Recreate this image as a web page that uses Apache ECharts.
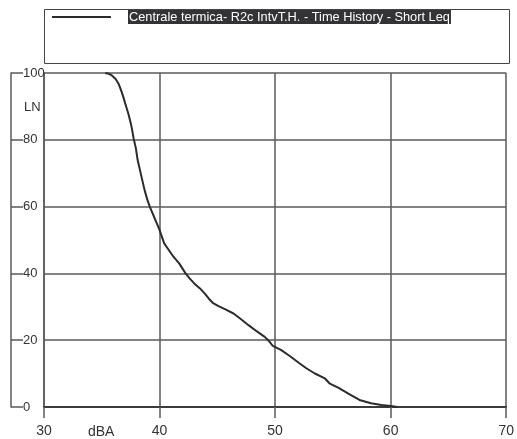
<!DOCTYPE html>
<html>
<head>
<meta charset="utf-8">
<script src="https://cdn.jsdelivr.net/npm/echarts@6/dist/echarts.min.js"></script>
<style>
  html, body { margin: 0; padding: 0; background: #fff; }
  #chart { width: 517px; height: 439px; }
</style>
</head>
<body>
<div id="chart"></div>
<script>
// Level distribution curve: percentage of time (LN) above each level in dBA
const seriesName = 'Centrale termica- R2c IntvT.H. - Time History - Short Leq';
const levelDBA = [
  35.3, 35.6, 35.9, 36.2, 36.45, 36.65, 36.85, 37.0, 37.15, 37.3, 37.45, 37.6, 37.75, 37.95, 38.1,
  38.3, 38.5, 38.7, 38.95, 39.15, 39.4, 39.7, 40.0, 40.2, 40.4, 40.8, 41.2, 41.7, 42.25,
  42.6, 43.0, 43.5, 43.9, 44.25, 44.6, 45.1, 45.7, 46.4, 47.0, 47.7, 48.4, 49.1, 49.4,
  49.8, 50.5, 51.3, 52.1, 52.7, 53.4, 54.3, 54.7, 55.5, 56.3, 57.3, 58.3, 59.2, 60.0, 60.6
];
const percentLN = [
  100, 99.8, 99.2, 98.2, 96.8, 95, 93, 91.2, 89.5, 87.8, 85.8, 83.5, 80.5, 77.5, 74,
  71, 68, 65, 62, 60, 58, 55.5, 53, 51, 49, 47, 45, 43, 40,
  38.5, 37, 35.5, 34, 32.5, 31.2, 30.2, 29.2, 28, 26.4, 24.5, 22.7, 21, 20,
  18.3, 17.1, 15.2, 13.1, 11.6, 10.1, 8.6, 7.1, 5.7, 4.1, 2.1, 1.1, 0.6, 0.3, 0
];
const xAxisLabel = 'dBA';
const yAxisLabel = 'LN';

const font = 'Liberation Sans, Arial, sans-serif';
const gridColor = '#5a5a5a';

const chart = echarts.init(document.getElementById('chart'), null, { renderer: 'canvas' });
chart.setOption({
  animation: false,
  backgroundColor: '#fff',
  grid: { left: 44, right: 7, top: 73, bottom: 32, containLabel: false },
  legend: {
    left: 52, top: 10,
    padding: 0,
    itemWidth: 59, itemHeight: 2,
    icon: 'rect',
    itemStyle: { color: '#2b2b2b' },
    data: [seriesName],
    formatter: name => '{g|}{t|' + name + '}',
    textStyle: {
      rich: {
        g: { width: 12 },
        t: {
          fontFamily: font, fontSize: 12.8, color: '#fff',
          backgroundColor: '#333336', lineHeight: 16, padding: [1, 1, 0, 1]
        }
      }
    }
  },
  graphic: [
    { type: 'rect', shape: { x: 44.5, y: 9.5, width: 465, height: 54 },
      style: { fill: 'none', stroke: '#444', lineWidth: 1 }, z: -1 },
    { type: 'text', left: 24, top: 101,
      style: { text: yAxisLabel, font: '13px ' + font, fill: '#333' } },
    { type: 'text', left: 88, top: 425,
      style: { text: xAxisLabel, font: '14px ' + font, fill: '#333' } }
  ],
  xAxis: {
    type: 'value', min: 30, max: 70, interval: 10,
    axisLine: { show: true, onZero: false, lineStyle: { color: '#3a3a3a', width: 2 } },
    axisTick: { show: true, length: 11, lineStyle: { color: gridColor, width: 1.5 } },
    axisLabel: { margin: 17, fontFamily: font, fontSize: 14, color: '#333',
                 showMaxLabel: true, showMinLabel: true },
    splitLine: { show: true, lineStyle: { color: gridColor, width: 1.5 } }
  },
  yAxis: [
    {
      type: 'value', min: 0, max: 100, interval: 20,
      axisLine: { show: true, onZero: false, lineStyle: { color: gridColor, width: 1.5 } },
      axisTick: { show: false },
      axisLabel: { show: false },
      splitLine: { show: true, lineStyle: { color: gridColor, width: 1.5 } }
    },
    {
      type: 'value', min: 0, max: 100, interval: 20,
      position: 'left', offset: 33,
      axisLine: { show: true, onZero: false, lineStyle: { color: gridColor, width: 1.5 } },
      axisTick: { show: true, inside: true, length: 12, lineStyle: { color: gridColor, width: 1.5 } },
      axisLabel: { inside: true, margin: 12, fontFamily: font, fontSize: 13, color: '#333' },
      splitLine: { show: false }
    }
  ],
  series: [{
    name: seriesName,
    type: 'line',
    yAxisIndex: 0,
    showSymbol: false,
    symbol: 'none',
    smooth: false,
    lineStyle: { color: '#2b2b2b', width: 2 },
    itemStyle: { color: '#2b2b2b' },
    data: levelDBA.map((x, i) => [x, percentLN[i]]),
    z: 5
  }]
});
</script>
</body>
</html>
